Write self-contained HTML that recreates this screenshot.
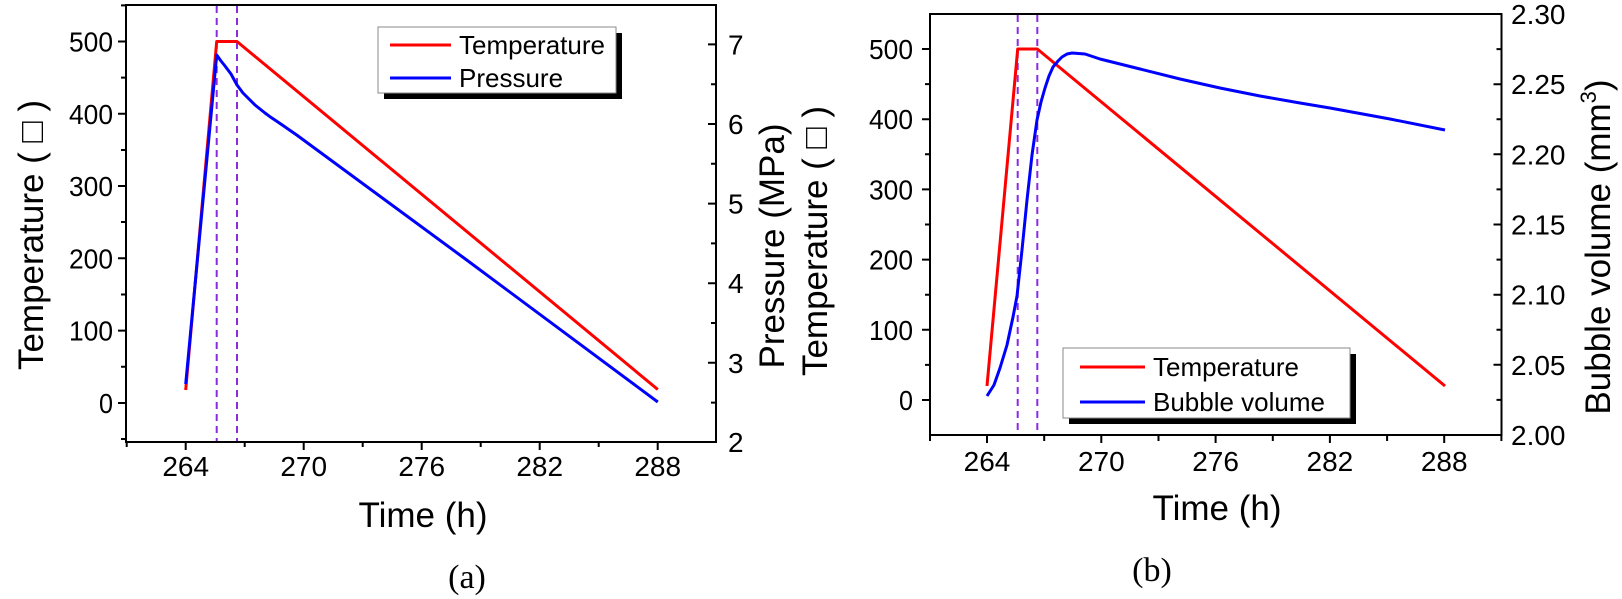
<!DOCTYPE html>
<html><head><meta charset="utf-8"><style>
html,body{margin:0;padding:0;background:#fff;}
svg{display:block;}
text{font-family:"Liberation Sans",Arial,sans-serif;fill:#000;}
.tk{font-size:28px;}
.ti{font-size:35px;}
.lg{font-size:26px;}
.cap{font-family:"Liberation Serif","Times New Roman",serif;font-size:34px;}
</style></head><body>
<svg width="1622" height="599" viewBox="0 0 1622 599" xmlns="http://www.w3.org/2000/svg">
<g stroke="#000" stroke-width="2" fill="none">
 <rect x="126" y="5" width="590" height="437"/>
 <path d="M118 41.5H126M118 113.8H126M118 186H126M118 258.3H126M118 330.6H126M118 403H126"/>
 <path d="M121 5.4H126M121 77.6H126M121 150H126M121 222H126M121 294.5H126M121 366.8H126M121 439H126"/>
 <path d="M185.7 442V450M303.7 442V450M421.7 442V450M539.7 442V450M657.7 442V450"/>
 <path d="M126.7 442V447M244.7 442V447M362.7 442V447M480.7 442V447M598.7 442V447"/>
 <path d="M708 44.4H716M708 124H716M708 203.6H716M708 283.2H716M708 362.8H716M708 442H716"/>
 <path d="M711 84.2H716M711 163.8H716M711 243.4H716M711 323H716M711 402.6H716"/>
 <rect x="930" y="14" width="571.5" height="421"/>
 <path d="M922 49H930M922 119.2H930M922 189.4H930M922 259.6H930M922 329.8H930M922 400H930"/>
 <path d="M925 84.1H930M925 154.3H930M925 224.5H930M925 294.7H930M925 364.9H930"/>
 <path d="M987 435V443M1101.3 435V443M1215.6 435V443M1329.9 435V443M1444.2 435V443"/>
 <path d="M930 435V441M1044.2 435V441M1158.5 435V441M1272.8 435V441M1387.1 435V441M1501.4 435V441"/>
 <path d="M1493.5 84.2H1501.5M1493.5 154.3H1501.5M1493.5 224.5H1501.5M1493.5 294.7H1501.5M1493.5 364.8H1501.5"/>
 <path d="M1496.5 49.1H1501.5M1496.5 119.2H1501.5M1496.5 189.4H1501.5M1496.5 259.6H1501.5M1496.5 329.7H1501.5M1496.5 399.9H1501.5"/>
</g>
<g stroke="#8a2be2" stroke-width="2" stroke-dasharray="7,5" fill="none">
 <line x1="216.7" y1="6" x2="216.7" y2="441"/>
 <line x1="237" y1="6" x2="237" y2="441"/>
 <line x1="1017.7" y1="15" x2="1017.7" y2="434"/>
 <line x1="1037.3" y1="15" x2="1037.3" y2="434"/>
</g>
<g fill="none" stroke-width="3" stroke-linejoin="round">
 <polyline stroke="#ff0000" points="185.7,390 216.7,41.5 237,41.5 657.8,389.5"/>
 <polyline stroke="#0000ff" points="185.7,384 216.7,55 221,61 225,66 231,74 237,85 243,93 250,100 255,105 260,109 265,113 270,116.7 276,120.7 283,125.5 290,130.4 296.7,135 466.7,260 657.8,402"/>
 <polyline stroke="#ff0000" points="987,386 1017.7,49 1037.3,49 1445,386"/>
 <polyline stroke="#0000ff" points="987,396 994,385 1000,368 1007,345 1013,317 1017,296 1022,250 1027,200 1032,155 1037,120 1041,102 1045,88 1049,76 1053,67 1058,61 1062,57 1067,54 1072,53 1085,54 1100,59 1140,69 1180,79 1220,88 1260,96 1300,103 1330,108 1390,119 1445,130"/>
</g>
<rect x="384" y="33" width="238" height="66" fill="#000"/>
<rect x="378" y="27" width="238" height="66" fill="#fff" stroke="#888" stroke-width="1"/>
<line x1="390" y1="45" x2="451" y2="45" stroke="#ff0000" stroke-width="3"/>
<line x1="390" y1="78" x2="451" y2="78" stroke="#0000ff" stroke-width="3"/>
<text class="lg" x="459" y="54">Temperature</text>
<text class="lg" x="459" y="87">Pressure</text>
<rect x="1069" y="354" width="287" height="70" fill="#000"/>
<rect x="1063" y="348" width="287" height="70" fill="#fff" stroke="#888" stroke-width="1"/>
<line x1="1080" y1="367" x2="1145" y2="367" stroke="#ff0000" stroke-width="3"/>
<line x1="1080" y1="402" x2="1145" y2="402" stroke="#0000ff" stroke-width="3"/>
<text class="lg" x="1153" y="376">Temperature</text>
<text class="lg" x="1153" y="411">Bubble volume</text>
<g class="tk" text-anchor="end">
 <text x="113" y="51.5" textLength="44" lengthAdjust="spacingAndGlyphs">500</text>
 <text x="113" y="123.8" textLength="44" lengthAdjust="spacingAndGlyphs">400</text>
 <text x="113" y="196" textLength="44" lengthAdjust="spacingAndGlyphs">300</text>
 <text x="113" y="268.3" textLength="44" lengthAdjust="spacingAndGlyphs">200</text>
 <text x="113" y="340.6" textLength="44" lengthAdjust="spacingAndGlyphs">100</text>
 <text x="113" y="413" textLength="14" lengthAdjust="spacingAndGlyphs">0</text>
 <text x="913" y="59" textLength="44" lengthAdjust="spacingAndGlyphs">500</text>
 <text x="913" y="129.2" textLength="44" lengthAdjust="spacingAndGlyphs">400</text>
 <text x="913" y="199.4" textLength="44" lengthAdjust="spacingAndGlyphs">300</text>
 <text x="913" y="269.6" textLength="44" lengthAdjust="spacingAndGlyphs">200</text>
 <text x="913" y="339.8" textLength="44" lengthAdjust="spacingAndGlyphs">100</text>
 <text x="913" y="410" textLength="14" lengthAdjust="spacingAndGlyphs">0</text>
</g>
<g class="tk" text-anchor="middle">
 <text x="185.7" y="476">264</text><text x="303.7" y="476">270</text><text x="421.7" y="476">276</text><text x="539.7" y="476">282</text><text x="657.7" y="476">288</text>
 <text x="987" y="471">264</text><text x="1101.3" y="471">270</text><text x="1215.6" y="471">276</text><text x="1329.9" y="471">282</text><text x="1444.2" y="471">288</text>
</g>
<g class="tk">
 <text x="728" y="54.4">7</text><text x="728" y="134">6</text><text x="728" y="213.6">5</text><text x="728" y="293.2">4</text><text x="728" y="372.8">3</text><text x="728" y="452">2</text>
 <text x="1511" y="24">2.30</text><text x="1511" y="94.2">2.25</text><text x="1511" y="164.3">2.20</text><text x="1511" y="234.5">2.15</text><text x="1511" y="304.7">2.10</text><text x="1511" y="374.8">2.05</text><text x="1511" y="445">2.00</text>
</g>
<g class="ti" text-anchor="middle">
 <text x="423" y="527">Time (h)</text>
 <text x="1217" y="520">Time (h)</text>
 <text transform="translate(43,235) rotate(-90)">Temperature ( □ )</text>
 <text transform="translate(784,246) rotate(-90)">Pressure (MPa)</text>
 <text transform="translate(827,241) rotate(-90)">Temperature ( □ )</text>
 <text transform="translate(1610,247) rotate(-90)">Bubble volume (mm<tspan font-size="22" dy="-14">3</tspan><tspan dy="14">)</tspan></text>
</g>
<text class="cap" x="467" y="588" text-anchor="middle">(a)</text>
<text class="cap" x="1152" y="581" text-anchor="middle">(b)</text>
</svg>
</body></html>
